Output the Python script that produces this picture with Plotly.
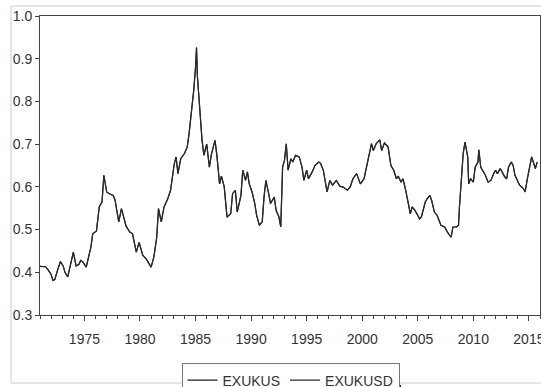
import plotly.graph_objects as go

dates = [
    "1971-01", "1971-07", "1971-10", "1972-01", "1972-03", "1972-05", "1972-08", "1972-11",
    "1973-02", "1973-04", "1973-07", "1973-10", "1974-01", "1974-04", "1974-07", "1974-09",
    "1974-11", "1975-03", "1975-05", "1975-08", "1975-10", "1976-02", "1976-05", "1976-08",
    "1976-10", "1977-01", "1977-04", "1977-08", "1977-10", "1978-02", "1978-05", "1978-10",
    "1979-02", "1979-05", "1979-09", "1979-12", "1980-04", "1980-08", "1981-01", "1981-04",
    "1981-07", "1981-09", "1981-12", "1982-03", "1982-07", "1982-10", "1983-02", "1983-04",
    "1983-06", "1983-09", "1984-01", "1984-04", "1984-06", "1984-08", "1984-11", "1985-01",
    "1985-02", "1985-03", "1985-05", "1985-08", "1985-10", "1986-01", "1986-04", "1986-06",
    "1986-10", "1986-12", "1987-03", "1987-05", "1987-08", "1987-11", "1988-03", "1988-05",
    "1988-08", "1988-10", "1989-02", "1989-04", "1989-07", "1989-09", "1989-11", "1990-02",
    "1990-05", "1990-07", "1990-10", "1991-01", "1991-03", "1991-05", "1991-08", "1991-10",
    "1992-02", "1992-04", "1992-07", "1992-09", "1992-11", "1993-01", "1993-03", "1993-05",
    "1993-08", "1993-10", "1994-01", "1994-05", "1994-08", "1994-10", "1995-01", "1995-03",
    "1995-07", "1995-10", "1996-02", "1996-04", "1996-07", "1996-09", "1996-11", "1997-02",
    "1997-05", "1997-09", "1998-01", "1998-04", "1998-09", "1998-12", "1999-03", "1999-07",
    "1999-11", "2000-03", "2000-07", "2000-09", "2000-11", "2001-01", "2001-04", "2001-08",
    "2001-10", "2002-01", "2002-05", "2002-08", "2002-11", "2003-02", "2003-04", "2003-07",
    "2003-09", "2003-12", "2004-02", "2004-05", "2004-07", "2004-10", "2005-01", "2005-03",
    "2005-05", "2005-09", "2005-11", "2006-02", "2006-04", "2006-07", "2006-10", "2007-02",
    "2007-06", "2007-09", "2008-01", "2008-03", "2008-07", "2008-09", "2008-10", "2008-12",
    "2009-02", "2009-04", "2009-07", "2009-08", "2009-10", "2010-01", "2010-03", "2010-06",
    "2010-07", "2010-09", "2010-12", "2011-02", "2011-05", "2011-08", "2011-11", "2012-01",
    "2012-03", "2012-06", "2012-08", "2012-11", "2013-01", "2013-03", "2013-06", "2013-08",
    "2013-10", "2014-01", "2014-03", "2014-07", "2014-09", "2014-11", "2015-02", "2015-04",
    "2015-07", "2015-08", "2015-10",
]

exukus = [
    0.414, 0.413, 0.405, 0.395, 0.381, 0.383, 0.405, 0.425,
    0.415, 0.400, 0.389, 0.415, 0.447, 0.415, 0.418, 0.428,
    0.425, 0.412, 0.430, 0.459, 0.490, 0.497, 0.553, 0.565,
    0.627, 0.588, 0.584, 0.580, 0.570, 0.518, 0.549, 0.508,
    0.494, 0.490, 0.447, 0.470, 0.440, 0.430, 0.412, 0.436,
    0.480, 0.549, 0.518, 0.553, 0.572, 0.592, 0.654, 0.670,
    0.631, 0.666, 0.678, 0.693, 0.724, 0.763, 0.826, 0.881,
    0.926, 0.860, 0.800, 0.710, 0.674, 0.700, 0.646, 0.675,
    0.709, 0.675, 0.607, 0.625, 0.600, 0.529, 0.537, 0.584,
    0.592, 0.541, 0.580, 0.639, 0.615, 0.635, 0.607, 0.588,
    0.561, 0.533, 0.510, 0.518, 0.576, 0.615, 0.584, 0.561,
    0.576, 0.545, 0.530, 0.506, 0.646, 0.662, 0.701, 0.639,
    0.666, 0.658, 0.674, 0.670, 0.646, 0.615, 0.639, 0.619,
    0.635, 0.650, 0.658, 0.655, 0.639, 0.611, 0.588, 0.615,
    0.604, 0.615, 0.601, 0.600, 0.592, 0.600, 0.619, 0.631,
    0.607, 0.619, 0.658, 0.678, 0.701, 0.685, 0.701, 0.710,
    0.685, 0.703, 0.693, 0.650, 0.639, 0.619, 0.625, 0.611,
    0.619, 0.592, 0.568, 0.537, 0.553, 0.545, 0.533, 0.525,
    0.530, 0.564, 0.572, 0.580, 0.568, 0.541, 0.533, 0.510,
    0.506, 0.494, 0.482, 0.506, 0.506, 0.510, 0.553, 0.615,
    0.678, 0.705, 0.670, 0.607, 0.619, 0.611, 0.646, 0.658,
    0.687, 0.646, 0.635, 0.627, 0.611, 0.615, 0.631, 0.639,
    0.631, 0.643, 0.635, 0.623, 0.619, 0.646, 0.658, 0.650,
    0.627, 0.615, 0.604, 0.596, 0.588, 0.615, 0.646, 0.670,
    0.650, 0.643, 0.658,
]
exukusd = list(exukus)

series_names = ["EXUKUS", "EXUKUSD"]
y_tick_vals = [0.3, 0.4, 0.5, 0.6, 0.7, 0.8, 0.9, 1.0]
y_tick_text = ["0.3", "0.4", "0.5", "0.6", "0.7", "0.8", "0.9", "1.0"]

fig = go.Figure()
fig.add_trace(go.Scatter(x=dates, y=exukus, mode="lines", name=series_names[0],
                         line=dict(color="#1e1e1e", width=1.2)))
fig.add_trace(go.Scatter(x=dates, y=exukusd, mode="lines", name=series_names[1],
                         line=dict(color="#2a2a2a", width=1.2)))

font = "Liberation Sans, Arial, sans-serif"

fig.update_layout(
    width=541, height=387,
    margin=dict(l=40, r=1, t=16, b=72, autoexpand=False),
    paper_bgcolor="white", plot_bgcolor="white",
    font=dict(family=font, size=14, color="#333333"),
    showlegend=True,
    legend=dict(orientation="h", x=0.501, xanchor="center", y=-0.162, yanchor="top",
                bordercolor="#777777", borderwidth=1, bgcolor="white",
                font=dict(family=font, size=14, color="#333333"),
                itemwidth=30, tracegroupgap=0),
    xaxis=dict(type="date", range=["1971-01-01", "2016-01-01"], automargin=False,
               tickmode="linear", tick0="1975-01-01", dtick="M60", tickformat="%Y",
               ticks="outside", ticklen=5, tickcolor="#444444", tickwidth=1,
               minor=dict(dtick="M12", tick0="1971-01-01", ticks="outside", ticklen=3,
                          tickcolor="#444444", tickwidth=1, showgrid=False),
               showgrid=False, zeroline=False,
               showline=True, linecolor="#444444", linewidth=1, mirror=True,
               ticklabelstandoff=6, ticklabeloverflow="allow",
               tickfont=dict(family=font, size=14, color="#333333")),
    yaxis=dict(range=[0.3, 1.0], automargin=False,
               tickmode="array", tickvals=y_tick_vals, ticktext=y_tick_text,
               ticks="outside", ticklen=4, tickcolor="#444444", tickwidth=1,
               showgrid=False, zeroline=False,
               showline=True, linecolor="#444444", linewidth=1, mirror=True,
               tickfont=dict(family=font, size=14, color="#333333")),
    shapes=[
        dict(type="rect", xref="paper", yref="paper", x0=-0.058, x1=1.05, y0=-0.2274, y1=1.0334,
             line=dict(color="#cccccc", width=1), layer="below"),
        dict(type="line", xref="paper", yref="paper", x0=0.284, x1=0.722, y0=-0.2375, y1=-0.2375,
             line=dict(color="#222222", width=2), layer="above"),
    ],
)

fig.write_html("out.html", config={"displayModeBar": False},
               post_script="document.body.style.margin='0';")
